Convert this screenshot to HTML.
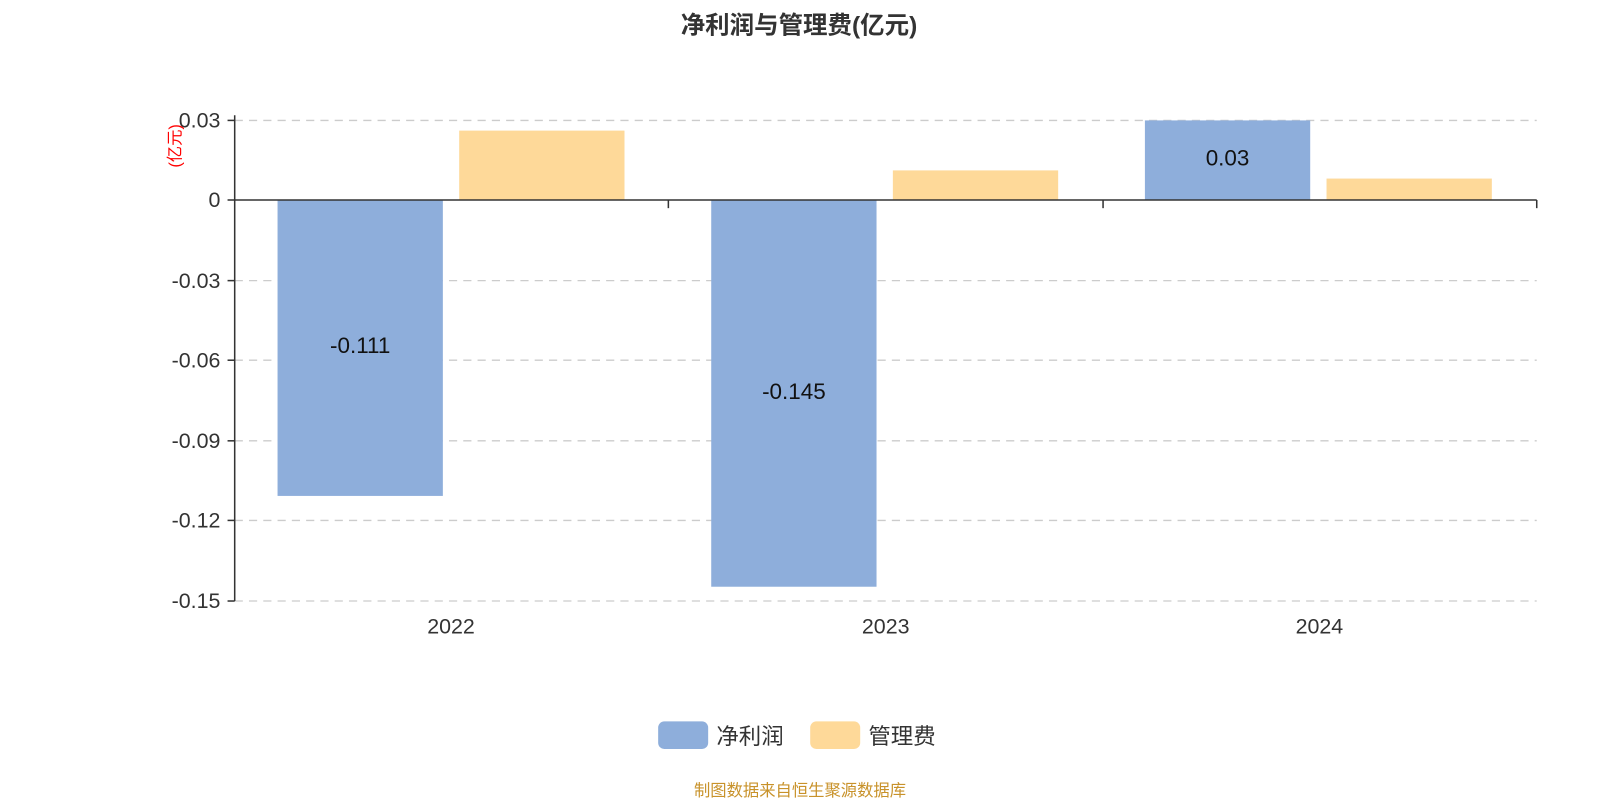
<!DOCTYPE html>
<html><head><meta charset="utf-8"><style>body{margin:0;background:#fff}svg{display:block}</style></head><body>
<svg width="1600" height="800" viewBox="0 0 1568 784" xmlns="http://www.w3.org/2000/svg" font-family="'Liberation Sans','Noto Sans CJK SC',sans-serif">
<text x="783" y="33" text-anchor="middle" font-size="24" font-weight="bold" fill="#333">净利润与管理费(亿元)</text>
<g stroke="#ccc" stroke-dasharray="8,6" stroke-width="1.3">
<line x1="230" y1="118" x2="1506" y2="118"/>
<line x1="230" y1="275" x2="1506" y2="275"/>
<line x1="230" y1="353" x2="1506" y2="353"/>
<line x1="230" y1="432" x2="1506" y2="432"/>
<line x1="230" y1="510" x2="1506" y2="510"/>
<line x1="230" y1="589" x2="1506" y2="589"/>
</g>
<g fill="#8eaedb">
<rect x="272" y="196" width="162" height="290"/>
<rect x="697" y="196" width="162" height="379"/>
<rect x="1122" y="118" width="162" height="78"/>
</g>
<g fill="#fed999">
<rect x="450" y="128" width="162" height="68"/>
<rect x="875" y="167" width="162" height="29"/>
<rect x="1300" y="175" width="162" height="21"/>
</g>
<g stroke="#333" stroke-width="1.5" fill="none">
<line x1="230" y1="113" x2="230" y2="589"/>
<line x1="223" y1="118" x2="230" y2="118"/>
<line x1="223" y1="196" x2="230" y2="196"/>
<line x1="223" y1="275" x2="230" y2="275"/>
<line x1="223" y1="353" x2="230" y2="353"/>
<line x1="223" y1="432" x2="230" y2="432"/>
<line x1="223" y1="510" x2="230" y2="510"/>
<line x1="223" y1="589" x2="230" y2="589"/>
<line x1="230" y1="196" x2="1506" y2="196"/>
<line x1="655" y1="196" x2="655" y2="204"/>
<line x1="1081" y1="196" x2="1081" y2="204"/>
<line x1="1506" y1="196" x2="1506" y2="204"/>
</g>
<g font-size="21" fill="#333" text-anchor="end">
<text x="216" y="125">0.03</text>
<text x="216" y="203">0</text>
<text x="216" y="282">-0.03</text>
<text x="216" y="360">-0.06</text>
<text x="216" y="439">-0.09</text>
<text x="216" y="517">-0.12</text>
<text x="216" y="596">-0.15</text>
</g>
<text transform="translate(177,143) rotate(-90)" text-anchor="middle" font-size="16" fill="red">(亿元)</text>
<g font-size="21" fill="#333" text-anchor="middle">
<text x="442" y="621">2022</text>
<text x="868" y="621">2023</text>
<text x="1293" y="621">2024</text>
</g>
<g font-size="22" fill="#111" text-anchor="middle">
<text x="353" y="346">-0.111</text>
<text x="778" y="391">-0.145</text>
<text x="1203" y="162">0.03</text>
</g>
<rect x="645" y="707" width="49" height="27" rx="6" fill="#8eaedb"/>
<text x="702" y="729" font-size="22" fill="#333">净利润</text>
<rect x="794" y="707" width="49" height="27" rx="6" fill="#fed999"/>
<text x="851" y="729" font-size="22" fill="#333">管理费</text>
<text x="784" y="780" text-anchor="middle" font-size="16" fill="#c8922a">制图数据来自恒生聚源数据库</text>
</svg>
</body></html>
